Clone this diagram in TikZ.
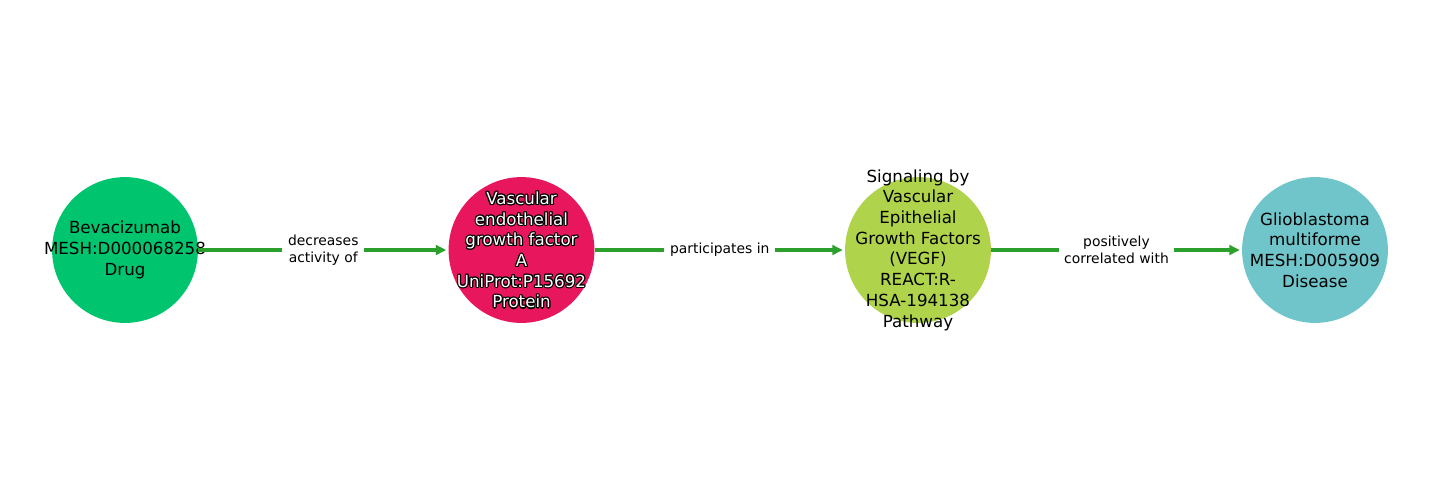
\documentclass[tikz,border=0pt]{standalone}
\usepackage{fontspec}
\setmainfont{DejaVu Sans}
\usetikzlibrary{arrows.meta}

\definecolor{drugcol}{HTML}{00C46E}
\definecolor{proteincol}{HTML}{E8175D}
\definecolor{pathwaycol}{HTML}{B0D34C}
\definecolor{diseasecol}{HTML}{6FC5CA}
\definecolor{linkgreen}{HTML}{2CA02C}

\newcommand{\vegfaname}{Vascular\\endothelial\\growth factor\\A\\UniProt:P15692\\Protein}

\tikzset{
  entity/.style={circle,minimum size=105pt,inner sep=0pt},
  entitytext/.style={align=center,inner sep=0pt,font=\fontsize{12}{14.9}\selectfont},
  relation/.style={-{Triangle[length=7.5pt,width=7pt]},line width=2.2pt,draw=linkgreen,shorten >=1.5pt},
  rellabel/.style={fill=white,align=center,inner xsep=4pt,inner ysep=1pt,font=\fontsize{10}{12}\selectfont}
}

\begin{document}
\begin{tikzpicture}[x=0.72pt,y=-0.72pt]
\useasboundingbox (0,0) rectangle (1440,500);

\path (125,250) node[entity,fill=drugcol] (drug) {};
\path (drug) node[entitytext] (drugtext) {Bevacizumab\\MESH:D000068258\\Drug};

\path (521.5,250) node[entity,fill=proteincol] (vegfa) {};
\foreach \a in {0,30,...,330}
  \path (vegfa) ++(\a:0.8pt) node[entitytext,text=black] (vegfahalo\a) {\vegfaname};
\path (vegfa) node[entitytext,text=white] (vegfatext) {\vegfaname};

\path (918,250) node[entity,fill=pathwaycol] (vegfsig) {};
\path (vegfsig) node[entitytext] (vegfsigtext) {Signaling by\\Vascular\\Epithelial\\Growth Factors\\(VEGF)\\REACT:R-\\HSA-194138\\Pathway};

\path (1315,250) node[entity,fill=diseasecol] (gbm) {};
\path (gbm) node[entitytext] (gbmtext) {Glioblastoma\\multiforme\\MESH:D005909\\Disease};

\draw[relation] (drug) -- node[rellabel] (decr) {decreases\\activity of} (vegfa);
\draw[relation] (vegfa) -- node[rellabel] (part) {participates in} (vegfsig);
\draw[relation] (vegfsig) -- node[rellabel] (corr) {positively\\correlated with} (gbm);
\end{tikzpicture}
\end{document}
